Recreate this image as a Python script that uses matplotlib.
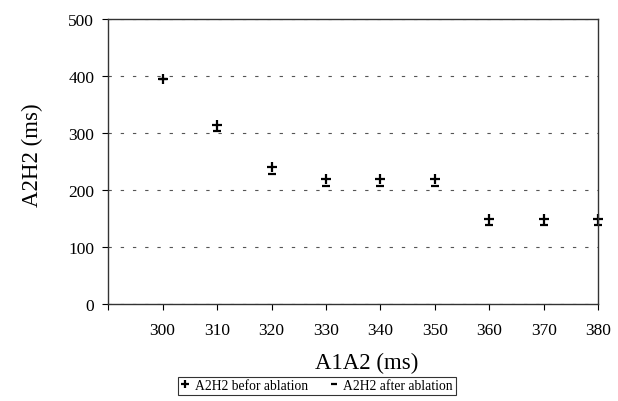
import matplotlib.pyplot as plt
from matplotlib import rcParams

a1a2 = [300, 310, 320, 330, 340, 350, 360, 370, 380]
a2h2_before = [395, 315, 240, 220, 220, 220, 150, 150, 150]
a2h2_after = [395, 303, 228, 208, 208, 208, 139, 139, 139]
x_ticks = [290, 300, 310, 320, 330, 340, 350, 360, 370, 380]
x_tick_labels = ["", "300", "310", "320", "330", "340", "350", "360", "370", "380"]
y_ticks = [0, 100, 200, 300, 400, 500]


def main():
    rcParams["font.family"] = "serif"
    rcParams["font.serif"] = ["Liberation Serif", "DejaVu Serif"]

    fig = plt.figure(figsize=(6.18, 4.02), dpi=100)
    ax = fig.add_axes([0.175, 0.241, 0.793, 0.709])

    ax.plot(a1a2, a2h2_after, linestyle="None", marker="_", color="black",
            markersize=6, mew=1.6, label="A2H2 after ablation", clip_on=False)
    ax.plot(a1a2, a2h2_before, linestyle="None", marker="+", color="black",
            markersize=7, mew=1.6, label="A2H2 befor ablation", clip_on=False)

    ax.set_xlim(290, 380)
    ax.set_ylim(0, 500)
    ax.set_xticks(x_ticks)
    ax.set_xticklabels(x_tick_labels)
    ax.set_yticks(y_ticks)
    ax.tick_params(labelsize=12.5, direction="out", length=4, width=0.8)
    ax.tick_params(axis="x", pad=9)
    ax.tick_params(axis="y", pad=6)

    ax.yaxis.grid(True, linestyle=(0, (3, 8)), color="#555555", linewidth=0.8)
    ax.set_axisbelow(True)
    for sp in ax.spines.values():
        sp.set_linewidth(1.0)
        sp.set_color("#333333")

    ax.set_xlabel("A1A2 (ms)", fontsize=16.5)
    ax.set_ylabel("A2H2 (ms)", fontsize=16.5)
    ax.xaxis.set_label_coords(0.527, -0.168)
    ax.yaxis.set_label_coords(-0.133, 0.526)

    handles, labels = ax.get_legend_handles_labels()
    leg = fig.legend(handles[::-1], labels[::-1], ncol=2, fontsize=9.8,
                     loc="center", bbox_to_anchor=(0.513, 0.038),
                     frameon=True, fancybox=False, handlelength=0.6,
                     handletextpad=0.4, columnspacing=1.6,
                     borderpad=0.2, markerscale=0.8)
    leg.get_frame().set_edgecolor("black")
    leg.get_frame().set_linewidth(0.8)

    plt.savefig("out.png", dpi=100)


if __name__ == "__main__":
    main()
